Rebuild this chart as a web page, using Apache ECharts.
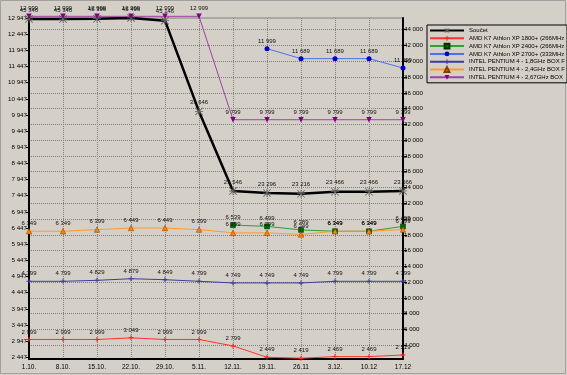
<!DOCTYPE html>
<html><head><meta charset="utf-8">
<script src="https://cdn.jsdelivr.net/npm/echarts@6/dist/echarts.min.js"></script>
<style>html,body{margin:0;padding:0;background:#d4d0c8}#c{width:567px;height:375px}</style>
</head><body><div id="c"></div>
<script>
const categories = ['1.10.','8.10.','15.10.','22.10.','29.10.','5.11.','12.11.','19.11.','26.11','3.12.','10.12','17.12'];
const soucet   = [45346,45346,45396,45496,45146,33646,23546,23296,23216,23466,23466,23566];
const amd1800  = [2999,2999,2999,3049,2999,2999,2799,2449,2419,2469,2469,2519];
const amd2400  = [null,null,null,null,null,null,6539,6499,6389,6349,6349,6499];
const amd2700  = [null,null,null,null,null,null,null,11999,11689,11689,11689,11399];
const p4_18    = [4799,4799,4829,4879,4849,4799,4749,4749,4749,4799,4799,4799];
const p4_24    = [6349,6349,6399,6449,6449,6399,6299,6299,6249,6349,6349,6399];
const p4_267   = [12999,12999,12999,12999,12999,12999,9799,9799,9799,9799,9799,9799];
const leftTicks  = [2447,2947,3447,3947,4447,4947,5447,5947,6447,6947,7447,7947,8447,8947,9447,9947,10447,10947,11447,11947,12447,12947];
const rightTicks = [4000,6000,8000,10000,12000,14000,16000,18000,20000,22000,24000,26000,28000,30000,32000,34000,36000,38000,40000,42000,44000];
const names = ['Součet','AMD K7 Athlon XP 1800+ (266MHz','AMD K7 Athlon XP 2400+ (266MHz','AMD K7 Athlon XP 2700+ (333MHz','INTEL PENTIUM 4 - 1,8GHz BOX F','INTEL PENTIUM 4 - 2,4GHz BOX F','INTEL PENTIUM 4 - 2,67GHz BOX'];

const fmt = v => String(v).replace(/\B(?=(\d{3})+(?!\d))/g, ' ');
const FONT = 'Liberation Sans, Arial, sans-serif';
const STAR = 'path://M0 4.5H10V5.5H0Z M4.5 0H5.5V10H4.5Z M0.7 0L10 9.3L9.3 10L0 0.7Z M9.3 0L10 0.7L0.7 10L0 9.3Z';
const PLUS = 'path://M4 0H6V4H10V6H6V10H4V6H0V4H4Z';

function lbl(){ return {show:true, position:'top', distance:2, fontSize:6, fontFamily:FONT, color:'#111',
  formatter: p => p.value==null?'':fmt(p.value)}; }

function ser(name, data, yIdx, color, lineColor, width, symbol, size, extra){
  return Object.assign({
    name, type:'line', data, yAxisIndex:yIdx, symbol, symbolSize:size, showAllSymbol:true,
    lineStyle:{color:lineColor, width}, itemStyle:{color}, label:lbl(), clip:false, animation:false, connectNulls:false
  }, extra||{});
}

const chart = echarts.init(document.getElementById('c'), null, {renderer:'canvas'});
chart.setOption({
  backgroundColor:'#d4d0c8',
  animation:false,
  grid:{left:29, right:164, top:18, height:341, show:true, borderColor:'#808080', borderWidth:1, backgroundColor:'transparent'},
  legend:{
    orient:'vertical', left:427, top:25, padding:[2,2,2,2],
    borderColor:'#000', borderWidth:1, backgroundColor:'#d4d0c8',
    itemWidth:34, itemHeight:6, itemGap:0.8,
    textStyle:{fontSize:6, fontFamily:FONT, color:'#000', lineHeight:7},
    data: names
  },
  xAxis:{type:'category', data:categories, boundaryGap:false,
    axisLine:{lineStyle:{color:'#000', width:2}}, axisTick:{show:false},
    axisLabel:{fontSize:6.5, fontFamily:FONT, color:'#000', margin:5, interval:0},
    splitLine:{show:true, lineStyle:{color:'#808080', type:'dotted', width:1}}},
  yAxis:[
    {type:'value', position:'left', min:2395, max:12947,
     axisLine:{show:true, lineStyle:{color:'#000', width:2}},
     axisTick:{show:true, length:3, customValues:leftTicks, lineStyle:{color:'#000'}},
     axisLabel:{customValues:leftTicks, fontSize:6.2, fontFamily:FONT, color:'#000', margin:2, formatter:v=>fmt(v)},
     splitLine:{show:false}},
    {type:'value', position:'right', min:2264, max:45483,
     axisLine:{show:true, lineStyle:{color:'#000', width:2}},
     axisTick:{show:true, length:4, customValues:rightTicks, lineStyle:{color:'#000'}},
     axisLabel:{customValues:rightTicks, fontSize:6.2, fontFamily:FONT, color:'#000', margin:1, formatter:v=>fmt(v)},
     splitLine:{show:true, lineStyle:{color:'#808080', type:'dotted', width:1}}}
  ],
  series:[
    ser(names[0], soucet, 1, '#606060', '#000000', 2.5, STAR, 8),
    ser(names[1], amd1800, 0, '#ff2020', '#ff3030', 1, PLUS, 5),
    ser(names[2], amd2400, 0, '#006400', '#30a030', 1, 'rect', 5, {itemStyle:{color:'#006400', borderColor:'#003000', borderWidth:0.5}}),
    ser(names[3], amd2700, 0, '#0000d0', '#4f6ef0', 1, 'circle', 5),
    ser(names[4], p4_18, 0, '#3c3c9c', '#3c3c9c', 1, PLUS, 5),
    ser(names[5], p4_24, 0, '#ff8000', '#ff9933', 1, 'triangle', 5.5, {itemStyle:{color:'#ff8000', borderColor:'#804000', borderWidth:0.5}}),
    ser(names[6], p4_267, 0, '#800080', '#a040a0', 1, 'path://M0 0H10L5 10Z', 5.5)
  ],
  graphic:[{type:'rect', shape:{x:0.5, y:0.5, width:565, height:373}, style:{fill:null, stroke:'#a0a0a0', lineWidth:1}, silent:true}]
});
</script></body></html>
